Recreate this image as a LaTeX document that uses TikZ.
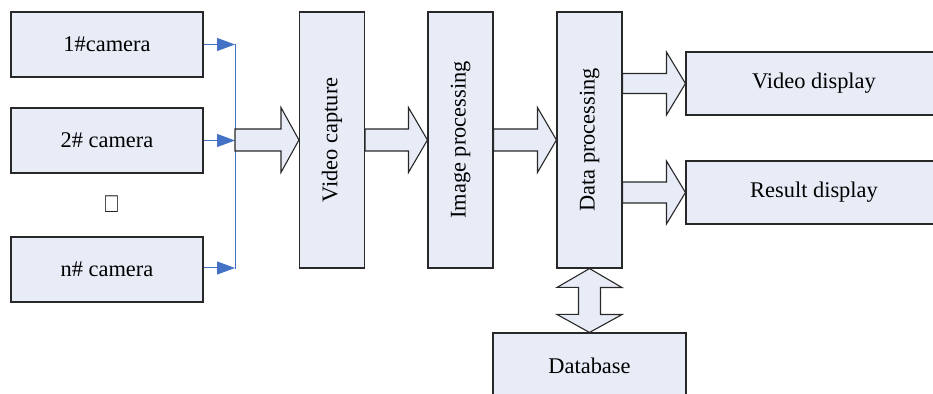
\documentclass[tikz,border=0pt]{standalone}
\usepackage{fontspec}
\setmainfont{Liberation Serif}
\usetikzlibrary{arrows.meta,calc}

\definecolor{boxfill}{RGB}{231,236,247}
\definecolor{boxline}{RGB}{40,40,40}
\definecolor{wireblue}{RGB}{68,114,196}

\tikzset{
  box/.style={draw=boxline, line width=0.55pt, fill=boxfill, inner sep=0pt,
    font=\fontsize{11.2}{13}\selectfont},
  cambox/.style={box, minimum width=96pt, minimum height=32.5pt},
  tallbox/.style={box, minimum width=32.5pt, minimum height=128pt},
  dispbox/.style={box, minimum width=128pt, minimum height=31.5pt},
  wire/.style={draw=wireblue, line width=0.5pt},
  feed/.style={wire, -{Triangle[length=9pt,width=6.5pt]}},
  barrow/.style={draw=boxline, line width=0.55pt, fill=boxfill, line join=miter}
}

% wide hollow arrow: start, tip, shaft half width, head half width, head length
\newcommand{\bigarrow}[5]{%
  \draw[barrow] ($(#1)+(0,-#3)$) -- ($(#2)+(-#5,-#3)$) -- ($(#2)+(-#5,-#4)$)
    -- (#2) -- ($(#2)+(-#5,#4)$) -- ($(#2)+(-#5,#3)$) -- ($(#1)+(0,#3)$) -- cycle;}

\begin{document}
\begin{tikzpicture}[x=0.5pt,y=-0.5pt]
\useasboundingbox (0,0) rectangle (933,394);

% cameras
\node[cambox] (cam1) at (107,44.5) {1\#camera};
\node[cambox] (cam2) at (107,140.5) {2\# camera};
\node[cambox] (camn) at (107,269.5) {n\# camera};
\node[font=\fontsize{11.2}{13}\selectfont, text=boxline] (dots) at (111.5,204)
  {\scalebox{0.95}[1.25]{□}};

% processing chain
\node[tallbox] (vc) at (332,140) {\rotatebox{90}{Video capture}};
\node[tallbox] (ip) at (460.5,140) {\rotatebox{90}{Image processing}};
\node[tallbox] (dp) at (589.5,140) {\rotatebox{90}{Data processing}};

% outputs
\node[dispbox] (vd) at (814,83.5) {Video display};
\node[dispbox] (rd) at (814,192.5) {Result display};
\node[cambox, minimum width=96.5pt] (db) at (589.5,365.5) {Database};

% camera bus
\coordinate (bus) at (235,140);
\draw[wire] (cam1.east -| bus) -- (camn.east -| bus);
\draw[feed] (cam1.east) -- (cam1.east -| bus);
\draw[feed] (cam2.east) -- (cam2.east -| bus);
\draw[feed] ([yshift=0.75pt]camn.east) -- ([yshift=0.75pt]camn.east -| bus);

% hollow arrows
\bigarrow{bus}{vc.west}{11}{32.5}{18}
\bigarrow{vc.east}{ip.west}{11}{32.5}{19}
\bigarrow{ip.east}{dp.west}{11}{32.5}{19}
\bigarrow{dp.east |- vd.west}{vd.west}{10}{31.5}{19}
\bigarrow{dp.east |- rd.west}{rd.west}{10.5}{31.5}{19}

% database link, both ways
\draw[barrow] (dp.south) -- ++(32.5,19) -- ++(-21.5,0) -- ++(0,27) -- ++(21.5,0)
  -- (db.north) -- ++(-32.5,-18) -- ++(21.5,0) -- ++(0,-27) -- ++(-21.5,0) -- cycle;
\end{tikzpicture}
\end{document}
